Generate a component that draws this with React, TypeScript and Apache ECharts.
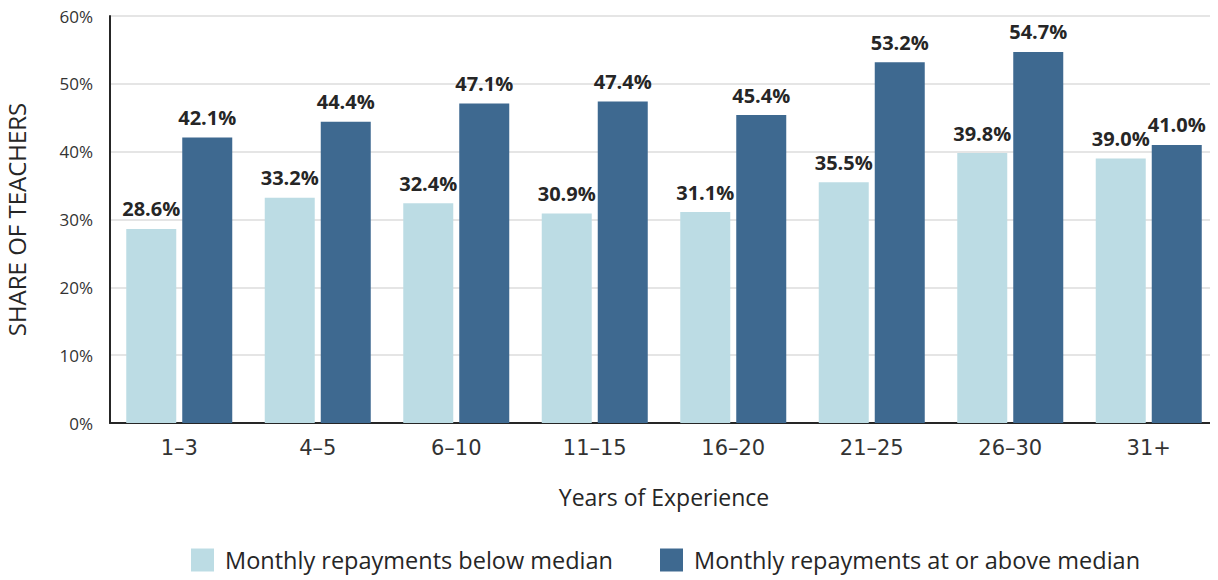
import React, { useEffect, useRef } from "react";
import * as echarts from "echarts";

const categories = ["1–3", "4–5", "6–10", "11–15", "16–20", "21–25", "26–30", "31+"];
const belowMedian = [28.6, 33.2, 32.4, 30.9, 31.1, 35.5, 39.8, 39.0];
const atOrAboveMedian = [42.1, 44.4, 47.1, 47.4, 45.4, 53.2, 54.7, 41.0];
const seriesNames = ["Monthly repayments below median", "Monthly repayments at or above median"];
const colors = ["#BCDCE4", "#3E6990"];

const FONT = "Open Sans";
const TICK_FONT = "DejaVu Sans";

export default function App() {
  const ref = useRef<HTMLDivElement>(null);

  useEffect(() => {
    if (!ref.current) return;
    const chart = echarts.init(ref.current, null, { renderer: "svg" });
    const label = {
      show: true,
      position: "top" as const,
      distance: 10,
      formatter: (p: any) => `${p.value.toFixed(1)}%`,
      fontFamily: FONT,
      fontWeight: "bold" as const,
      fontSize: 20,
      color: "#262626",
    };
    chart.setOption({
      animation: false,
      textStyle: { fontFamily: FONT },
      grid: { left: 110, right: 0, top: 16, bottom: 157, containLabel: false, outerBoundsMode: "none" },
      legend: {
        bottom: 3,
        left: 186,
        itemWidth: 23,
        itemHeight: 23,
        itemGap: 47,
        icon: "rect",
        textStyle: { fontFamily: FONT, fontSize: 23.5, color: "#262626", padding: [0, 0, 0, 6] },
        data: seriesNames,
      },
      xAxis: {
        type: "category",
        data: categories,
        name: "Years of Experience",
        nameLocation: "middle",
        nameGap: 62,
        nameTextStyle: { fontFamily: FONT, fontSize: 23, color: "#262626" },
        axisLine: { lineStyle: { color: "#262626", width: 2 } },
        axisTick: { show: false },
        axisLabel: { fontFamily: TICK_FONT, fontSize: 21, color: "#333", margin: 14 },
      },
      yAxis: {
        type: "value",
        min: 0,
        max: 60,
        interval: 10,
        name: "SHARE OF TEACHERS",
        nameLocation: "middle",
        nameGap: 82,
        nameRotate: 90,
        nameTextStyle: { fontFamily: FONT, fontSize: 24, color: "#262626" },
        axisLine: { show: true, lineStyle: { color: "#262626", width: 2 } },
        axisTick: { show: false },
        axisLabel: { formatter: "{value}%", fontFamily: FONT, fontSize: 17, color: "#333", margin: 17 },
        splitLine: { lineStyle: { color: "#dddddd", width: 1.5 } },
      },
      series: [
        {
          name: seriesNames[0],
          type: "bar",
          data: belowMedian,
          barWidth: 50,
          barGap: "12%",
          itemStyle: { color: colors[0] },
          label,
        },
        {
          name: seriesNames[1],
          type: "bar",
          data: atOrAboveMedian,
          barWidth: 50,
          barGap: "12%",
          itemStyle: { color: colors[1] },
          label,
        },
      ],
    });
    return () => chart.dispose();
  }, []);

  return <div ref={ref} style={{ width: 1218, height: 580, marginLeft: -8, marginTop: -8 }} />;
}
